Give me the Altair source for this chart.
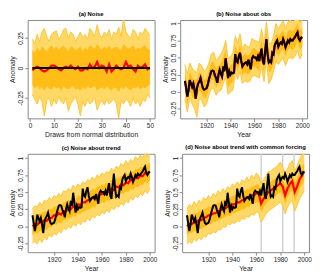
import altair as alt
import pandas as pd

# ---------------- data ----------------
draw_x = list(range(1, 51))
years_obs = list(range(1902, 2001))
years2 = list(range(1902, 2001, 2))

obs = [
    0.16, 0.05, -0.07, 0.02, 0.17, 0.12, 0.07, 0.12, 0.03, -0.10,
    0.05, 0.12, 0.15, 0.20, 0.12, 0.05, 0.03, 0.04, 0.05, 0.10,
    0.18, 0.24, 0.30, 0.31, 0.30, 0.24, 0.20, 0.13, 0.25, 0.32,
    0.26, 0.22, 0.37, 0.30, 0.49, 0.35, 0.20, 0.30, 0.25, 0.28,
    0.27, 0.28, 0.55, 0.45, 0.43, 0.52, 0.57, 0.45, 0.37, 0.40,
    0.42, 0.43, 0.40, 0.47, 0.40, 0.33, 0.49, 0.52, 0.50, 0.50,
    0.47, 0.52, 0.45, 0.55, 0.63, 0.45, 0.40, 0.60, 0.77, 0.55,
    0.43, 0.45, 0.43, 0.57, 0.55, 0.68, 0.72, 0.75, 0.66, 0.70,
    0.72, 0.70, 0.77, 0.72, 0.65, 0.70, 0.75, 0.72, 0.77, 0.75,
    0.75, 0.78, 0.80, 0.84, 0.87, 0.78, 0.75, 0.79, 0.80,
]

# (a) noise
a_red = [-0.02, 0.00, 0.01, 0.00, -0.02, -0.03, -0.02, 0.00, 0.02, 0.02,
         0.01, -0.01, -0.02, 0.00, 0.01, 0.00, 0.02, 0.00, -0.01, 0.01,
         -0.02, -0.02, 0.00, -0.01, 0.03, 0.00, 0.01, 0.05, 0.00, 0.02,
         0.01, -0.03, 0.03, -0.03, -0.01, 0.02, 0.00, -0.01, 0.00, 0.05,
         0.01, 0.02, -0.01, -0.03, 0.02, 0.00, 0.01, 0.03, -0.01, 0.00]
a_hi = [0.24, 0.20, 0.28, 0.22, 0.30, 0.33, 0.26, 0.22, 0.28, 0.30,
        0.31, 0.24, 0.27, 0.32, 0.33, 0.25, 0.30, 0.28, 0.22, 0.26,
        0.30, 0.25, 0.28, 0.24, 0.33, 0.30, 0.26, 0.36, 0.28, 0.25,
        0.30, 0.27, 0.32, 0.24, 0.30, 0.28, 0.34, 0.26, 0.41, 0.30,
        0.27, 0.25, 0.32, 0.30, 0.24, 0.30, 0.28, 0.33, 0.30, 0.27]
a_lo = [-0.22, -0.26, -0.30, -0.24, -0.28, -0.40, -0.27, -0.25, -0.32, -0.26,
        -0.30, -0.24, -0.28, -0.30, -0.25, -0.36, -0.30, -0.27, -0.24, -0.30,
        -0.40, -0.28, -0.32, -0.26, -0.30, -0.28, -0.25, -0.35, -0.30, -0.27,
        -0.31, -0.26, -0.30, -0.28, -0.25, -0.30, -0.42, -0.27, -0.30, -0.26,
        -0.28, -0.32, -0.25, -0.30, -0.27, -0.32, -0.26, -0.28, -0.22, -0.25]
a_ihi = [0.15, 0.13, 0.17, 0.14, 0.18, 0.16, 0.14, 0.17, 0.19, 0.16,
         0.18, 0.15, 0.17, 0.19, 0.16, 0.14, 0.18, 0.17, 0.15, 0.16,
         0.18, 0.14, 0.17, 0.15, 0.19, 0.17, 0.16, 0.20, 0.17, 0.15,
         0.18, 0.16, 0.19, 0.15, 0.17, 0.18, 0.16, 0.15, 0.20, 0.18,
         0.16, 0.17, 0.19, 0.15, 0.17, 0.16, 0.18, 0.19, 0.16, 0.15]
a_ilo = [-0.14, -0.17, -0.15, -0.18, -0.16, -0.19, -0.15, -0.17, -0.18, -0.15,
         -0.17, -0.16, -0.19, -0.15, -0.17, -0.18, -0.16, -0.15, -0.18, -0.17,
         -0.19, -0.16, -0.18, -0.15, -0.17, -0.16, -0.15, -0.19, -0.17, -0.16,
         -0.18, -0.15, -0.17, -0.19, -0.16, -0.17, -0.20, -0.16, -0.18, -0.15,
         -0.17, -0.19, -0.16, -0.17, -0.15, -0.18, -0.16, -0.17, -0.15, -0.14]
a_black_x = [1, 50]
a_black = [0.0, 0.0]

# (b) noise about obs
b_hi = [0.40, 0.25, 0.42, 0.35, 0.30, 0.28, 0.42, 0.38, 0.30, 0.33,
        0.42, 0.55, 0.58, 0.45, 0.50, 0.55, 0.62, 0.75, 0.48, 0.52,
        0.55, 0.82, 0.70, 0.85, 0.62, 0.70, 0.66, 0.65, 0.78, 0.75,
        0.74, 0.72, 0.92, 0.68, 1.02, 0.72, 0.70, 0.82, 1.00, 0.92,
        0.98, 1.04, 0.92, 1.02, 1.05, 1.00, 1.06, 1.08, 1.02, 1.06]
b_lo = [-0.10, -0.30, -0.08, -0.18, -0.25, -0.37, -0.10, -0.12, -0.22, -0.18,
        -0.05, 0.05, 0.05, -0.05, 0.00, 0.02, 0.12, 0.22, -0.04, 0.00,
        0.02, 0.28, 0.18, 0.30, 0.12, 0.16, 0.14, 0.15, 0.22, 0.24,
        0.22, 0.20, 0.36, 0.15, 0.48, 0.12, 0.18, 0.30, 0.45, 0.40,
        0.45, 0.50, 0.38, 0.48, 0.50, 0.48, 0.52, 0.60, 0.48, 0.55]
b_ihi = [0.30, 0.08, 0.30, 0.21, 0.17, 0.18, 0.29, 0.26, 0.17, 0.19,
         0.31, 0.44, 0.43, 0.34, 0.38, 0.40, 0.50, 0.62, 0.34, 0.39,
         0.41, 0.68, 0.57, 0.70, 0.51, 0.56, 0.53, 0.54, 0.62, 0.64,
         0.60, 0.59, 0.76, 0.54, 0.90, 0.57, 0.56, 0.69, 0.85, 0.80,
         0.85, 0.90, 0.79, 0.88, 0.91, 0.88, 0.93, 1.00, 0.89, 0.93]
b_ilo = [0.03, -0.20, 0.04, -0.07, -0.11, -0.09, 0.02, -0.02, -0.10, -0.08,
         0.05, 0.17, 0.17, 0.06, 0.12, 0.12, 0.24, 0.36, 0.06, 0.12,
         0.14, 0.42, 0.29, 0.44, 0.23, 0.29, 0.26, 0.27, 0.35, 0.37,
         0.34, 0.31, 0.50, 0.27, 0.64, 0.29, 0.30, 0.41, 0.59, 0.52,
         0.59, 0.63, 0.52, 0.61, 0.64, 0.61, 0.66, 0.74, 0.61, 0.67]

# (c) noise about trend
c_red = [0.00, 0.03, 0.02, 0.06, 0.05, 0.09, 0.08, 0.12, 0.12, 0.16,
         0.15, 0.19, 0.17, 0.22, 0.22, 0.25, 0.25, 0.29, 0.27, 0.32,
         0.31, 0.35, 0.35, 0.38, 0.38, 0.42, 0.40, 0.45, 0.45, 0.48,
         0.47, 0.51, 0.50, 0.55, 0.53, 0.58, 0.57, 0.61, 0.60, 0.64,
         0.63, 0.68, 0.66, 0.71, 0.70, 0.74, 0.73, 0.78, 0.76, 0.80]
c_hi = [0.25, 0.30, 0.28, 0.35, 0.30, 0.38, 0.36, 0.42, 0.38, 0.45,
        0.42, 0.48, 0.44, 0.52, 0.50, 0.55, 0.52, 0.60, 0.55, 0.62,
        0.58, 0.65, 0.62, 0.68, 0.66, 0.72, 0.68, 0.75, 0.72, 0.78,
        0.75, 0.80, 0.78, 0.85, 0.80, 0.88, 0.84, 0.92, 0.88, 0.96,
        0.90, 0.98, 0.94, 1.02, 0.97, 1.04, 1.00, 1.08, 1.02, 1.08]
c_lo = [-0.25, -0.22, -0.26, -0.18, -0.24, -0.15, -0.20, -0.12, -0.16, -0.10,
        -0.13, -0.06, -0.10, -0.02, -0.05, 0.00, -0.03, 0.04, 0.00, 0.06,
        0.02, 0.08, 0.06, 0.12, 0.08, 0.15, 0.12, 0.18, 0.15, 0.21,
        0.18, 0.24, 0.20, 0.28, 0.24, 0.30, 0.28, 0.34, 0.30, 0.38,
        0.34, 0.42, 0.38, 0.45, 0.42, 0.48, 0.45, 0.52, 0.48, 0.55]
c_ihi = [0.13, 0.16, 0.15, 0.19, 0.18, 0.22, 0.21, 0.25, 0.25, 0.29,
         0.28, 0.32, 0.30, 0.35, 0.35, 0.38, 0.38, 0.42, 0.40, 0.45,
         0.44, 0.48, 0.48, 0.51, 0.51, 0.55, 0.53, 0.58, 0.58, 0.61,
         0.60, 0.64, 0.63, 0.68, 0.66, 0.71, 0.70, 0.74, 0.73, 0.77,
         0.76, 0.81, 0.79, 0.84, 0.83, 0.87, 0.86, 0.91, 0.89, 0.93]
c_ilo = [-0.13, -0.10, -0.11, -0.07, -0.08, -0.04, -0.05, -0.01, -0.01, 0.03,
         0.02, 0.06, 0.04, 0.09, 0.09, 0.12, 0.12, 0.16, 0.14, 0.19,
         0.18, 0.22, 0.22, 0.25, 0.25, 0.29, 0.27, 0.32, 0.32, 0.35,
         0.34, 0.38, 0.37, 0.42, 0.40, 0.45, 0.44, 0.48, 0.47, 0.51,
         0.50, 0.55, 0.53, 0.58, 0.57, 0.61, 0.60, 0.65, 0.63, 0.67]

# (d) noise about trend with common forcing
volcano_years = [1964, 1982, 1991.5]
d_red = [0.00, 0.03, 0.03, 0.06, 0.06, 0.09, 0.09, 0.12, 0.13, 0.16,
         0.16, 0.19, 0.19, 0.22, 0.23, 0.25, 0.26, 0.29, 0.28, 0.32,
         0.32, 0.35, 0.35, 0.38, 0.38, 0.42, 0.41, 0.45, 0.45, 0.48,
         0.48, 0.33, 0.40, 0.45, 0.50, 0.52, 0.55, 0.57, 0.60, 0.63,
         0.58, 0.45, 0.55, 0.62, 0.66, 0.50, 0.58, 0.68, 0.74, 0.80]
d_hi = [0.25, 0.32, 0.28, 0.36, 0.30, 0.38, 0.34, 0.42, 0.38, 0.45,
        0.40, 0.48, 0.44, 0.52, 0.48, 0.55, 0.50, 0.58, 0.54, 0.62,
        0.58, 0.65, 0.60, 0.68, 0.64, 0.72, 0.66, 0.75, 0.70, 0.78,
        0.74, 0.62, 0.68, 0.74, 0.80, 0.80, 0.84, 0.86, 0.90, 0.94,
        0.86, 0.75, 0.84, 0.92, 0.96, 0.80, 0.88, 0.98, 1.04, 1.08]
d_lo = [-0.26, -0.22, -0.25, -0.18, -0.22, -0.16, -0.20, -0.14, -0.16, -0.10,
        -0.12, -0.08, -0.10, -0.04, -0.06, 0.00, -0.02, 0.04, 0.02, 0.06,
        0.04, 0.08, 0.07, 0.12, 0.10, 0.15, 0.13, 0.18, 0.16, 0.21,
        0.20, 0.06, 0.12, 0.18, 0.22, 0.25, 0.27, 0.30, 0.32, 0.36,
        0.30, 0.18, 0.28, 0.34, 0.38, 0.22, 0.30, 0.40, 0.46, 0.52]
d_ihi = [0.13, 0.16, 0.16, 0.19, 0.19, 0.22, 0.22, 0.25, 0.26, 0.29,
         0.29, 0.32, 0.32, 0.35, 0.36, 0.38, 0.39, 0.42, 0.41, 0.45,
         0.45, 0.48, 0.48, 0.51, 0.51, 0.55, 0.54, 0.58, 0.58, 0.61,
         0.61, 0.46, 0.53, 0.58, 0.63, 0.65, 0.68, 0.70, 0.73, 0.76,
         0.71, 0.58, 0.68, 0.75, 0.79, 0.63, 0.71, 0.81, 0.87, 0.93]
d_ilo = [-0.13, -0.10, -0.10, -0.07, -0.07, -0.04, -0.04, -0.01, 0.00, 0.03,
         0.03, 0.06, 0.06, 0.09, 0.10, 0.12, 0.13, 0.16, 0.15, 0.19,
         0.19, 0.22, 0.22, 0.25, 0.25, 0.29, 0.28, 0.32, 0.32, 0.35,
         0.35, 0.20, 0.27, 0.32, 0.37, 0.39, 0.42, 0.44, 0.47, 0.50,
         0.45, 0.32, 0.42, 0.49, 0.53, 0.37, 0.45, 0.55, 0.61, 0.67]

# ---------------- styling ----------------
W, H = 129, 100
OUTER = "#FFD866"
EDGE = "#FFC533"
INNER = "#FFBD18"
LBL = "#222222"
BOX = "#888888"
Y_LABEL_EXPR = "datum.value < 0 ? '-' + format(-datum.value, '~g') : format(datum.value, '~g')"


def panel(title, xdom, xvals, xfmt, xtitle, ydom, yvals,
          band_x, hi, lo, ihi, ilo, red_x, red, blk_x, blk, vlines=None):
    xs = alt.Scale(domain=xdom, nice=False, zero=False)
    ys = alt.Scale(domain=ydom, nice=False, zero=False)
    xax = alt.Axis(values=xvals, format=xfmt, title=xtitle, grid=False, domain=False,
                   tickColor=BOX, tickSize=3, labelFontSize=6.5, labelColor=LBL,
                   labelPadding=1, titleFontSize=7, titleFontWeight="normal",
                   titleColor=LBL, titlePadding=2, labelFlush=False)
    yax = alt.Axis(values=yvals, labelExpr=Y_LABEL_EXPR, title="Anomaly", grid=False,
                   domain=False, tickColor=BOX, tickSize=3, labelFontSize=6.5,
                   labelColor=LBL, labelPadding=1, labelAngle=270, labelAlign="center",
                   labelBaseline="bottom", titleFontSize=7, titleFontWeight="normal",
                   titleColor=LBL, titlePadding=2, labelFlush=False)
    X = alt.X("x:Q", scale=xs, axis=xax)
    band = pd.DataFrame({"x": band_x, "hi": hi, "lo": lo, "ihi": ihi, "ilo": ilo})
    layers = []
    if vlines:
        layers.append(
            alt.Chart(pd.DataFrame({"x": vlines})).mark_rule(color="#d0d0d0", strokeWidth=1.5)
            .encode(x=X)
        )
    layers.append(
        alt.Chart(band).mark_area(color=OUTER, clip=True)
        .encode(x=X, y=alt.Y("hi:Q", scale=ys, axis=yax), y2="lo:Q")
    )
    for f in ("hi", "lo"):
        layers.append(
            alt.Chart(band).mark_line(color=EDGE, strokeWidth=1, clip=True)
            .encode(x=X, y=alt.Y(f"{f}:Q", scale=ys, axis=yax))
        )
    layers.append(
        alt.Chart(band).mark_area(color=INNER, clip=True)
        .encode(x=X, y=alt.Y("ihi:Q", scale=ys, axis=yax), y2="ilo:Q")
    )
    layers.append(
        alt.Chart(pd.DataFrame({"x": red_x, "y": red})).mark_line(color="#ff0000", strokeWidth=2.2, clip=True)
        .encode(x=X, y=alt.Y("y:Q", scale=ys, axis=yax))
    )
    layers.append(
        alt.Chart(pd.DataFrame({"x": blk_x, "y": blk})).mark_line(color="#000000", strokeWidth=2, clip=True)
        .encode(x=X, y=alt.Y("y:Q", scale=ys, axis=yax))
    )
    return alt.layer(*layers).properties(
        width=W, height=H,
        title=alt.TitleParams(title, fontSize=6, fontWeight="bold", offset=3, color="#000000"),
    )


yr_ticks = [1920, 1940, 1960, 1980, 2000]
full_ticks = [-0.25, 0, 0.25, 0.5, 0.75, 1]

pa = panel("(a) Noise", [-0.96, 51.96], [0, 10, 20, 30, 40, 50], "d",
           "Draws from normal distribution", [-0.42, 0.40], [-0.25, 0, 0.25],
           draw_x, a_hi, a_lo, a_ihi, a_ilo, draw_x, a_red, a_black_x, a_black)
pb = panel("(b) Noise about obs", [1898, 2004], yr_ticks, "d", "Year",
           [-0.39, 1.05], full_ticks,
           years2, b_hi, b_lo, b_ihi, b_ilo, years_obs, obs, years_obs, obs)
pc = panel("(c) Noise about trend", [1898, 2004], yr_ticks, "d", "Year",
           [-0.38, 1.06], full_ticks,
           years2, c_hi, c_lo, c_ihi, c_ilo, years2, c_red, years_obs, obs)
pd_ = panel("(d) Noise about trend with common forcing", [1898, 2004], yr_ticks, "d", "Year",
            [-0.38, 1.06], full_ticks,
            years2, d_hi, d_lo, d_ihi, d_ilo, years2, d_red, years_obs, obs,
            vlines=volcano_years)

chart = alt.vconcat(
    alt.hconcat(pa, pb, spacing=5),
    alt.hconcat(pc, pd_, spacing=5),
    spacing=5,
).properties(padding=0).configure(font="Liberation Sans").configure_view(stroke=BOX, strokeWidth=1)

chart.save("out.html", embed_options={"renderer": "svg", "actions": False})
